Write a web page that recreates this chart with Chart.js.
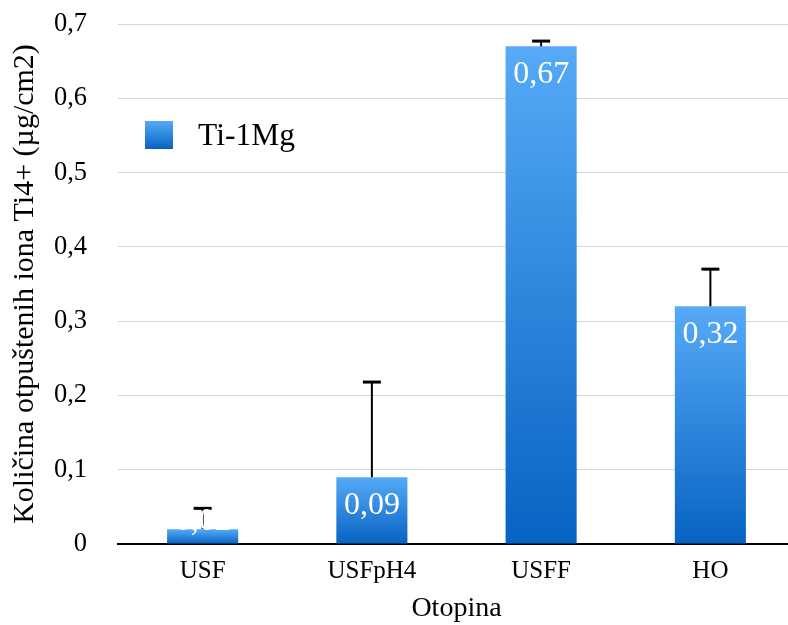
<!DOCTYPE html>
<html><head><meta charset="utf-8">
<script src="https://cdn.jsdelivr.net/npm/chart.js@4/dist/chart.umd.min.js"></script>
<style>html,body{margin:0;padding:0;background:#fff;overflow:hidden}#wrap{width:788px;height:625px;overflow:hidden}</style>
</head><body><div id="wrap"><canvas id="c" width="800" height="625"></canvas></div>
<script>
const categories = ['USF', 'USFpH4', 'USFF', 'HO'];
const seriesName = 'Ti-1Mg';
const values = [0.02, 0.09, 0.67, 0.32];
const errorsUp = [0.028, 0.128, 0.007, 0.05];
const yTicks = [0, 0.1, 0.2, 0.3, 0.4, 0.5, 0.6, 0.7];
const FONT = '"Liberation Serif", "Times New Roman", serif';
const TOP_C = '#56aaf7', BOT_C = '#0763c2';
const fmt = v => v === 0 ? '0' : v.toFixed(2).replace(/0$/, '').replace('.', ',');

function barGrad(ctx) {
  const chart = ctx.chart;
  const ys = chart.scales && chart.scales.y;
  if (!ys || ctx.dataIndex === undefined) return TOP_C;
  const top = ys.getPixelForValue(values[ctx.dataIndex]);
  const base = ys.getPixelForValue(0);
  if (!isFinite(top) || !isFinite(base) || top === base) return TOP_C;
  const g = chart.ctx.createLinearGradient(0, top, 0, base);
  g.addColorStop(0, TOP_C); g.addColorStop(1, BOT_C);
  return g;
}

const overlay = {
  id: 'overlay',
  afterDatasetsDraw(chart) {
    const c = chart.ctx, ys = chart.scales.y, meta = chart.getDatasetMeta(0);
    c.save();
    c.strokeStyle = '#000';
    meta.data.forEach((el, i) => {
      const yTop = ys.getPixelForValue(values[i] + errorsUp[i]);
      const yv = ys.getPixelForValue(values[i]);
      c.lineWidth = 2;
      c.beginPath(); c.moveTo(el.x, yv); c.lineTo(el.x, yTop); c.stroke();
      c.lineWidth = 3;
      c.beginPath(); c.moveTo(el.x - 9, yTop); c.lineTo(el.x + 9, yTop); c.stroke();
    });
    c.fillStyle = '#fff'; c.font = '32px ' + FONT; c.textAlign = 'center'; c.textBaseline = 'middle';
    const base = ys.getPixelForValue(0);
    meta.data.forEach((el, i) => {
      const y = Math.min(el.y + 28, base - 22);
      c.fillText(fmt(values[i]), el.x, y);
    });
    const lx = 145, ly = 121, s = 28;
    const g = c.createLinearGradient(0, ly, 0, ly + s);
    g.addColorStop(0, TOP_C); g.addColorStop(1, BOT_C);
    c.fillStyle = g; c.fillRect(lx, ly, s, s);
    c.fillStyle = '#000'; c.font = '31.5px ' + FONT; c.textAlign = 'left';
    c.fillText(seriesName, 198, ly + s / 2 + 2);
    c.restore();
  }
};

new Chart(document.getElementById('c'), {
  type: 'bar',
  data: { labels: categories, datasets: [{ label: seriesName, data: values, backgroundColor: barGrad, borderWidth: 0, barPercentage: 0.42, categoryPercentage: 1 }] },
  options: {
    responsive: false, animation: false, devicePixelRatio: 1,
    layout: { padding: { top: 24, right: 5, left: 5, bottom: 0 } },
    plugins: { legend: { display: false }, tooltip: { enabled: false } },
    scales: {
      x: {
        afterFit: ax => { ax.height = 81; ax.paddingLeft = 0; ax.paddingRight = 0; },
        grid: { display: false, drawTicks: false },
        border: { display: true, color: '#000', width: 2 },
        ticks: { color: '#000', font: { family: FONT, size: 25 }, padding: 12 },
        title: { display: true, text: 'Otopina', color: '#000', font: { family: FONT, size: 28 }, padding: { top: 0, bottom: 0 } }
      },
      y: {
        min: 0, max: 0.7,
        afterFit: ax => { ax.width = 113; ax.paddingTop = 0; ax.paddingBottom = 0; },
        afterBuildTicks: ax => { ax.ticks = yTicks.map(v => ({ value: v })); },
        grid: { color: '#d6d6d6', lineWidth: 1, drawTicks: false },
        border: { display: false },
        ticks: { color: '#000', font: { family: FONT, size: 26.5 }, padding: 31, callback: v => fmt(v) },
        title: { display: true, text: 'Količina otpuštenih iona Ti4+ (µg/cm2)', color: '#000', font: { family: FONT, size: 30 }, padding: { top: 2, bottom: 0 } }
      }
    }
  },
  plugins: [overlay]
});
</script></body></html>
